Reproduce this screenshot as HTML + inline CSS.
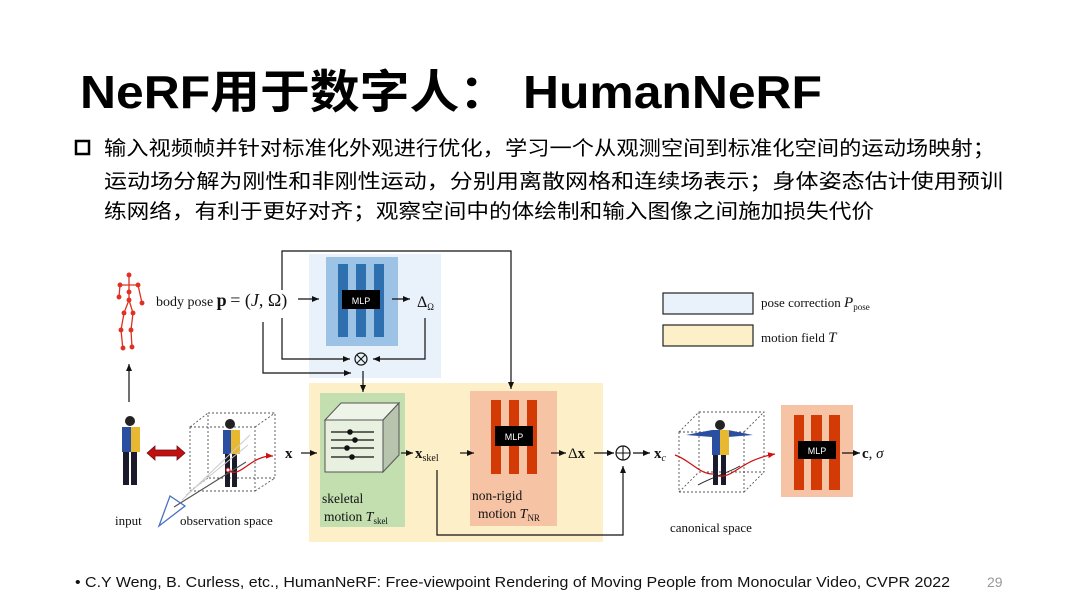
<!DOCTYPE html>
<html><head><meta charset="utf-8"><style>
html,body{margin:0;padding:0;background:#fff;width:1080px;height:606px;overflow:hidden}
svg{display:block}
.cj{font-family:"Liberation Sans","Noto Sans CJK SC",sans-serif}
.sr{font-family:"Liberation Serif","DejaVu Serif",serif}
</style></head><body>
<svg width="1080" height="606" viewBox="0 0 1080 606" xmlns="http://www.w3.org/2000/svg">
<defs>
<marker id="a" markerWidth="8" markerHeight="8" refX="7" refY="4" orient="auto" markerUnits="userSpaceOnUse"><path d="M0,1 L7,4 L0,7 z" fill="#111"/></marker>
<marker id="r" markerWidth="8" markerHeight="8" refX="7" refY="4" orient="auto" markerUnits="userSpaceOnUse"><path d="M0,1 L7,4 L0,7 z" fill="#d01010"/></marker>
</defs>
<text x="80" y="108" class="cj" font-size="46" font-weight="bold" textLength="742" lengthAdjust="spacingAndGlyphs" fill="#000">NeRF用于数字人： HumanNeRF</text>
<rect x="76" y="141" width="13" height="13" fill="none" stroke="#000" stroke-width="2.5"/>
<g class="cj" font-size="20" fill="#000">
<text x="104" y="155" textLength="891" lengthAdjust="spacingAndGlyphs">输入视频帧并针对标准化外观进行优化，学习一个从观测空间到标准化空间的运动场映射；</text>
<text x="104" y="188" textLength="899" lengthAdjust="spacingAndGlyphs">运动场分解为刚性和非刚性运动，分别用离散网格和连续场表示；身体姿态估计使用预训</text>
<text x="104" y="218" textLength="770" lengthAdjust="spacingAndGlyphs">练网络，有利于更好对齐；观察空间中的体绘制和输入图像之间施加损失代价</text>
</g>
<!-- regions -->
<rect x="309" y="254" width="132" height="124" fill="#e9f1fa"/>
<rect x="309" y="383" width="294" height="159" fill="#fdf0c8"/>
<rect x="326" y="257" width="72" height="89" fill="#9cc3e6"/>
<rect x="338" y="264" width="10" height="73" fill="#2e6fb0"/>
<rect x="356" y="264" width="10" height="73" fill="#2e6fb0"/>
<rect x="374" y="264" width="10" height="73" fill="#2e6fb0"/>
<rect x="342" y="290" width="38" height="19" fill="#000"/>
<text x="361" y="304" font-family="Liberation Sans" font-size="9" fill="#fff" text-anchor="middle">MLP</text>
<rect x="320" y="393" width="85" height="134" fill="#c3dfb0"/>
<rect x="470" y="391" width="87" height="135" fill="#f6c4a5"/>
<rect x="491" y="400" width="10" height="74" fill="#d33a06"/>
<rect x="509" y="400" width="10" height="74" fill="#d33a06"/>
<rect x="527" y="400" width="10" height="74" fill="#d33a06"/>
<rect x="495" y="426" width="38" height="20" fill="#000"/>
<text x="514" y="440" font-family="Liberation Sans" font-size="9" fill="#fff" text-anchor="middle">MLP</text>
<rect x="781" y="405" width="72" height="92" fill="#f6c4a5"/>
<rect x="794" y="415" width="10" height="75" fill="#d33a06"/>
<rect x="811" y="415" width="11" height="75" fill="#d33a06"/>
<rect x="829" y="415" width="11" height="75" fill="#d33a06"/>
<rect x="798" y="441" width="38" height="18" fill="#000"/>
<text x="817" y="454" font-family="Liberation Sans" font-size="9" fill="#fff" text-anchor="middle">MLP</text>
<!-- skeletal cube -->
<path d="M325,420 L341,403 L399,403 L383,420 z" fill="#eef5e8" stroke="#555"/>
<path d="M383,420 L399,403 L399,455 L383,472 z" fill="#b8c4ae" stroke="#555"/>
<rect x="325" y="420" width="58" height="52" fill="#e8f0e0" stroke="#555"/>
<g stroke="#111" stroke-width="1.3"><line x1="331" y1="432" x2="374" y2="432"/><line x1="331" y1="440" x2="374" y2="440"/><line x1="331" y1="448" x2="374" y2="448"/><line x1="331" y1="457" x2="374" y2="457"/></g>
<g fill="#111"><circle cx="350" cy="432" r="2.8"/><circle cx="355" cy="440" r="2.8"/><circle cx="347" cy="448" r="2.8"/><circle cx="352" cy="457" r="2.8"/></g>
<!-- legend -->
<rect x="663" y="293" width="90" height="21" fill="#e9f1fa" stroke="#222" stroke-width="1.2"/>
<rect x="663" y="325" width="90" height="21" fill="#fdf0c8" stroke="#222" stroke-width="1.2"/>
<g class="sr" font-size="13" fill="#111">
<text x="761" y="307">pose correction <tspan font-style="italic" font-size="15">P</tspan><tspan font-size="9" dy="3">pose</tspan></text>
<text x="761" y="342">motion field  <tspan font-style="italic" font-size="15">T</tspan></text>
<text x="156" y="306" font-size="14">body pose <tspan font-weight="bold" font-size="18">p</tspan> <tspan font-size="18">= (</tspan><tspan font-style="italic" font-size="18">J</tspan><tspan font-size="18">, Ω)</tspan></text>
<text x="417" y="307" font-size="16">Δ<tspan font-size="9" dy="3">Ω</tspan></text>
<text x="115" y="525">input</text>
<text x="180" y="525">observation space</text>
<text x="285" y="458" font-weight="bold" font-size="15">x</text>
<text x="415" y="458" font-weight="bold" font-size="15">x<tspan font-weight="normal" font-size="10" dy="3">skel</tspan></text>
<text x="568" y="458" font-size="15">Δ<tspan font-weight="bold">x</tspan></text>
<text x="654" y="458" font-weight="bold" font-size="15">x<tspan font-weight="normal" font-style="italic" font-size="10" dy="3">c</tspan></text>
<text x="862" y="458" font-size="15"><tspan font-weight="bold">c</tspan>, <tspan font-style="italic">σ</tspan></text>
<text x="322" y="503" font-size="13.5">skeletal</text>
<text x="324" y="521" font-size="13.5">motion  <tspan font-style="italic" font-size="14">T</tspan><tspan font-size="9" dy="3">skel</tspan></text>
<text x="472" y="500" font-size="13.5">non-rigid</text>
<text x="478" y="518" font-size="13.5">motion  <tspan font-style="italic" font-size="14">T</tspan><tspan font-size="9" dy="3">NR</tspan></text>
<text x="670" y="532">canonical space</text>
</g>
<!-- connectors -->
<g fill="none" stroke="#111" stroke-width="1.2">
<path d="M282,290 L282,251 L511,251 L511,389" marker-end="url(#a)"/>
<path d="M298,299 L319,299" marker-end="url(#a)"/>
<path d="M392,299 L410,299" marker-end="url(#a)"/>
<path d="M282,318 L282,359 L350,359" marker-end="url(#a)"/>
<path d="M263,322 L263,373 L351,373" marker-end="url(#a)"/>
<path d="M425,318 L425,359 L373,359" marker-end="url(#a)"/>
<path d="M363,371 L363,392" marker-end="url(#a)"/>
<path d="M129,402 L129,364" marker-end="url(#a)"/>
<path d="M301,453 L317,453" marker-end="url(#a)"/>
<path d="M401,453 L413,453" marker-end="url(#a)"/>
<path d="M460,453 L474,453" marker-end="url(#a)"/>
<path d="M551,453 L566,453" marker-end="url(#a)"/>
<path d="M594,453 L614,453" marker-end="url(#a)"/>
<path d="M437,470 L437,535 L623,535 L623,466" marker-end="url(#a)"/>
<path d="M633,453 L650,453" marker-end="url(#a)"/>
<path d="M842,453 L860,453" marker-end="url(#a)"/>
</g>
<circle cx="361" cy="359" r="6" fill="none" stroke="#111" stroke-width="1.2"/>
<path d="M357,355 L365,363 M365,355 L357,363" stroke="#111" stroke-width="1.1"/>
<circle cx="623" cy="453" r="7" fill="none" stroke="#111" stroke-width="1.2"/>
<path d="M616,453 L630,453 M623,446 L623,460" stroke="#111" stroke-width="1.1"/>
<!-- skeleton icon -->
<g stroke="#e03020" stroke-width="1.3" fill="#e03020">
<path d="M129,276 L129,300 L124,313 L121,330 L123,350 M129,300 L133,313 L131,330 L132,348 M120,285 L138,285 M120,285 L119,297 M138,285 L142,303" fill="none"/>
<circle cx="129" cy="275" r="1.8"/><circle cx="120" cy="285" r="1.8"/><circle cx="138" cy="285" r="1.8"/><circle cx="129" cy="292" r="1.8"/><circle cx="129" cy="300" r="1.8"/><circle cx="124" cy="313" r="1.8"/><circle cx="133" cy="313" r="1.8"/><circle cx="121" cy="330" r="1.8"/><circle cx="131" cy="330" r="1.8"/><circle cx="123" cy="348" r="1.8"/><circle cx="132" cy="347" r="1.8"/><circle cx="142" cy="303" r="1.8"/><circle cx="119" cy="297" r="1.8"/>
</g>
<!-- input person -->
<g>
<circle cx="130" cy="421" r="5" fill="#222"/>
<rect x="122" y="427" width="17" height="25" fill="#2a4fa0"/><rect x="131" y="427" width="9" height="25" fill="#e8b830"/>
<rect x="123" y="452" width="6" height="33" fill="#1a1a2a"/><rect x="131" y="452" width="6" height="33" fill="#1a1a2a"/>
</g>
<path d="M147,453 L155,446 L155,450 L177,450 L177,446 L185,453 L177,460 L177,456 L155,456 L155,460 z" fill="#c01010" stroke="#701010" stroke-width="0.8"/>
<!-- obs cube -->
<g fill="none" stroke="#555" stroke-dasharray="2,2" stroke-width="0.9">
<rect x="190" y="427" width="65" height="64"/><rect x="208" y="413" width="67" height="65"/>
<path d="M190,427 L208,413 M255,427 L275,413 M255,491 L275,478 M190,491 L208,478"/>
</g>
<circle cx="230" cy="424" r="5" fill="#222"/>
<rect x="223" y="430" width="16" height="24" fill="#2a4fa0"/><rect x="231" y="430" width="9" height="24" fill="#e8b830"/>
<rect x="225" y="454" width="5" height="33" fill="#1a1a2a"/><rect x="232" y="454" width="5" height="33" fill="#1a1a2a"/>
<path d="M174,507 L246,462" stroke="#555" stroke-width="1.2"/>
<path d="M182,500 L250,435 M186,495 L248,445" stroke="#ccc" stroke-width="1"/>
<path d="M159,526 L170,496 L185,506 z" fill="none" stroke="#4a70c0" stroke-width="1.3"/>
<path d="M228,470 C240,480 250,455 273,456" fill="none" stroke="#d01010" stroke-width="1.2" marker-end="url(#r)"/>
<circle cx="228" cy="470" r="2" fill="#fff" stroke="#d01010"/>
<!-- canonical cube -->
<g fill="none" stroke="#555" stroke-dasharray="2,2" stroke-width="0.9">
<rect x="679" y="432" width="65" height="60"/><rect x="699" y="412" width="65" height="60"/>
<path d="M679,432 L699,412 M744,432 L764,412 M744,492 L764,472 M679,492 L699,472"/>
</g>
<circle cx="720" cy="425" r="5" fill="#222"/>
<path d="M686,435 L712,430 L728,430 L753,435 L728,437 L712,437 z" fill="#2a4fa0"/>
<rect x="712" y="430" width="16" height="25" fill="#2a4fa0"/><rect x="720" y="430" width="9" height="25" fill="#e8b830"/>
<rect x="713" y="455" width="5" height="30" fill="#1a1a2a"/><rect x="721" y="455" width="5" height="30" fill="#1a1a2a"/>
<path d="M698,485 C710,478 730,472 740,466" stroke="#222" fill="none"/>
<path d="M675,455 C690,460 700,475 714,474 M718,476 C735,478 740,460 775,454" fill="none" stroke="#d01010" stroke-width="1.2" marker-end="url(#r)"/>
<!-- footer -->
<text x="75" y="587" class="cj" font-size="15" textLength="875" lengthAdjust="spacingAndGlyphs" fill="#111">•  C.Y Weng, B. Curless, etc., HumanNeRF: Free-viewpoint Rendering of Moving People from Monocular Video, CVPR 2022</text>
<text x="987" y="587" font-family="Liberation Sans" font-size="14" fill="#999">29</text>
</svg>
</body></html>
